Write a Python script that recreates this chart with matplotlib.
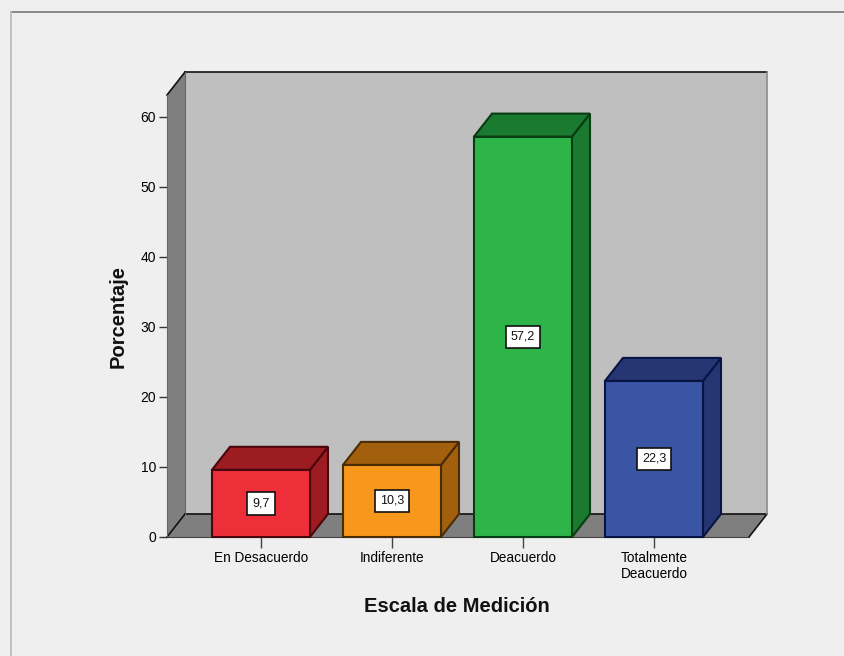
import matplotlib
matplotlib.use("Agg")
import matplotlib.pyplot as plt
from matplotlib.patches import Polygon, Rectangle

plt.rcParams["font.family"] = ["Liberation Sans", "DejaVu Sans"]

categorias = ["En Desacuerdo", "Indiferente", "Deacuerdo", "Totalmente\nDeacuerdo"]
porcentajes = [9.6, 10.3, 57.2, 22.3]
etiquetas = ["9,7", "10,3", "57,2", "22,3"]
ticks_y = [0, 10, 20, 30, 40, 50, 60]

colores = ["#ee2f3a", "#f7981d", "#2db54a", "#3b55a5"]
oscuros = ["#9c1c22", "#a2600f", "#1a7a30", "#263672"]
bordes = ["#4a060c", "#4a2c04", "#083c12", "#081444"]

W, H = 844, 656
fig = plt.figure(figsize=(W / 100, H / 100), dpi=100, facecolor="#efefef")

# ejes en la cara frontal del grafico (pixeles medidos en la referencia)
x0, x1, y0, y1 = 167, 749, 537, 95
ax = fig.add_axes([x0 / W, 1 - y0 / H, (x1 - x0) / W, (y0 - y1) / H])
px_cat = 131.0
px_val = 7.0
ax.set_xlim((x0 - 261) / px_cat, (x1 - 261) / px_cat)
ax.set_ylim(0, (y0 - y1) / px_val)
ax.patch.set_visible(False)

# profundidad 3D
dx = 18.0 / px_cat
dy = 23.0 / px_val
xa, xb = ax.get_xlim()
yb, yt = ax.get_ylim()

pared = Polygon([(xa + dx, dy), (xb + dx, dy), (xb + dx, yt + dy), (xa + dx, yt + dy)],
                facecolor="#bfbfbf", edgecolor="none", clip_on=False, zorder=1)
lateral = Polygon([(xa, 0), (xa + dx, dy), (xa + dx, yt + dy), (xa, yt)],
                  facecolor="#7f7f7f", edgecolor="none", clip_on=False, zorder=1)
piso = Polygon([(xa, 0), (xb, 0), (xb + dx, dy), (xa + dx, dy)],
               facecolor="#7f7f7f", edgecolor="none", clip_on=False, zorder=1)
for p in (pared, lateral, piso):
    ax.add_patch(p)

lineas = [((xa, xa + dx), (yt, yt + dy)), ((xa + dx, xb + dx), (yt + dy, yt + dy)),
          ((xa + dx, xb + dx), (dy, dy)), ((xa, xa + dx), (0, dy)),
          ((xb, xb + dx), (0, dy))]
for xs, ys in lineas:
    ax.plot(xs, ys, color="#111111", lw=1.2, clip_on=False, zorder=2)
ax.plot([xa + dx, xa + dx], [dy, yt + dy], color="#666666", lw=0.8, clip_on=False, zorder=2)
ax.plot([xb + dx, xb + dx], [dy, yt + dy], color="#8c8c8c", lw=1.2, clip_on=False, zorder=2)

# barras
ancho = 98.0 / px_cat
for i, v in enumerate(porcentajes):
    izq, der = i - ancho / 2, i + ancho / 2
    ax.add_patch(Polygon([(der, 0), (der + dx, dy), (der + dx, v + dy), (der, v)],
                         facecolor=oscuros[i], edgecolor=bordes[i], lw=1.5, zorder=3, clip_on=False))
    ax.add_patch(Polygon([(izq, v), (der, v), (der + dx, v + dy), (izq + dx, v + dy)],
                         facecolor=oscuros[i], edgecolor=bordes[i], lw=1.5, zorder=3, clip_on=False))
    ax.add_patch(Rectangle((izq, 0), ancho, v, facecolor=colores[i], edgecolor=bordes[i],
                           lw=1.5, zorder=4, clip_on=False))
    ax.text(i, v / 2, etiquetas[i], ha="center", va="center", fontsize=9, color="#111111", zorder=5,
            bbox=dict(boxstyle="square,pad=0.42", facecolor="white", edgecolor="#111111", lw=1.2))

for lado in ("top", "right"):
    ax.spines[lado].set_visible(False)
ax.spines["left"].set_color("#666666")
ax.spines["bottom"].set_color("#444444")
ax.spines["left"].set_zorder(2)
ax.spines["bottom"].set_zorder(2)

ax.set_yticks(ticks_y)
ax.set_xticks(range(len(categorias)))
ax.set_xticklabels(categorias, linespacing=1.2)
ax.tick_params(axis="y", length=6, width=1, color="#333333", labelsize=10, pad=2)
ax.tick_params(axis="x", length=8, width=1, color="#444444", labelsize=9.8, pad=2)

fig.text(118 / W, 1 - 316 / H, "Porcentaje", rotation=90, ha="center", va="center",
         fontsize=14.5, fontweight="bold", color="#111111")
fig.text(457 / W, 1 - 606 / H, "Escala de Medición", ha="center", va="center",
         fontsize=14.5, fontweight="bold", color="#111111")

# marco de la ventana
fig.add_artist(plt.Line2D([11 / W, 1], [1 - 11.5 / H, 1 - 11.5 / H], color="#808080", lw=1.3))
fig.add_artist(plt.Line2D([11 / W, 11 / W], [0, 1 - 11.5 / H], color="#bcbcbc", lw=1.3))

fig.savefig("out.png", dpi=100, facecolor=fig.get_facecolor())
